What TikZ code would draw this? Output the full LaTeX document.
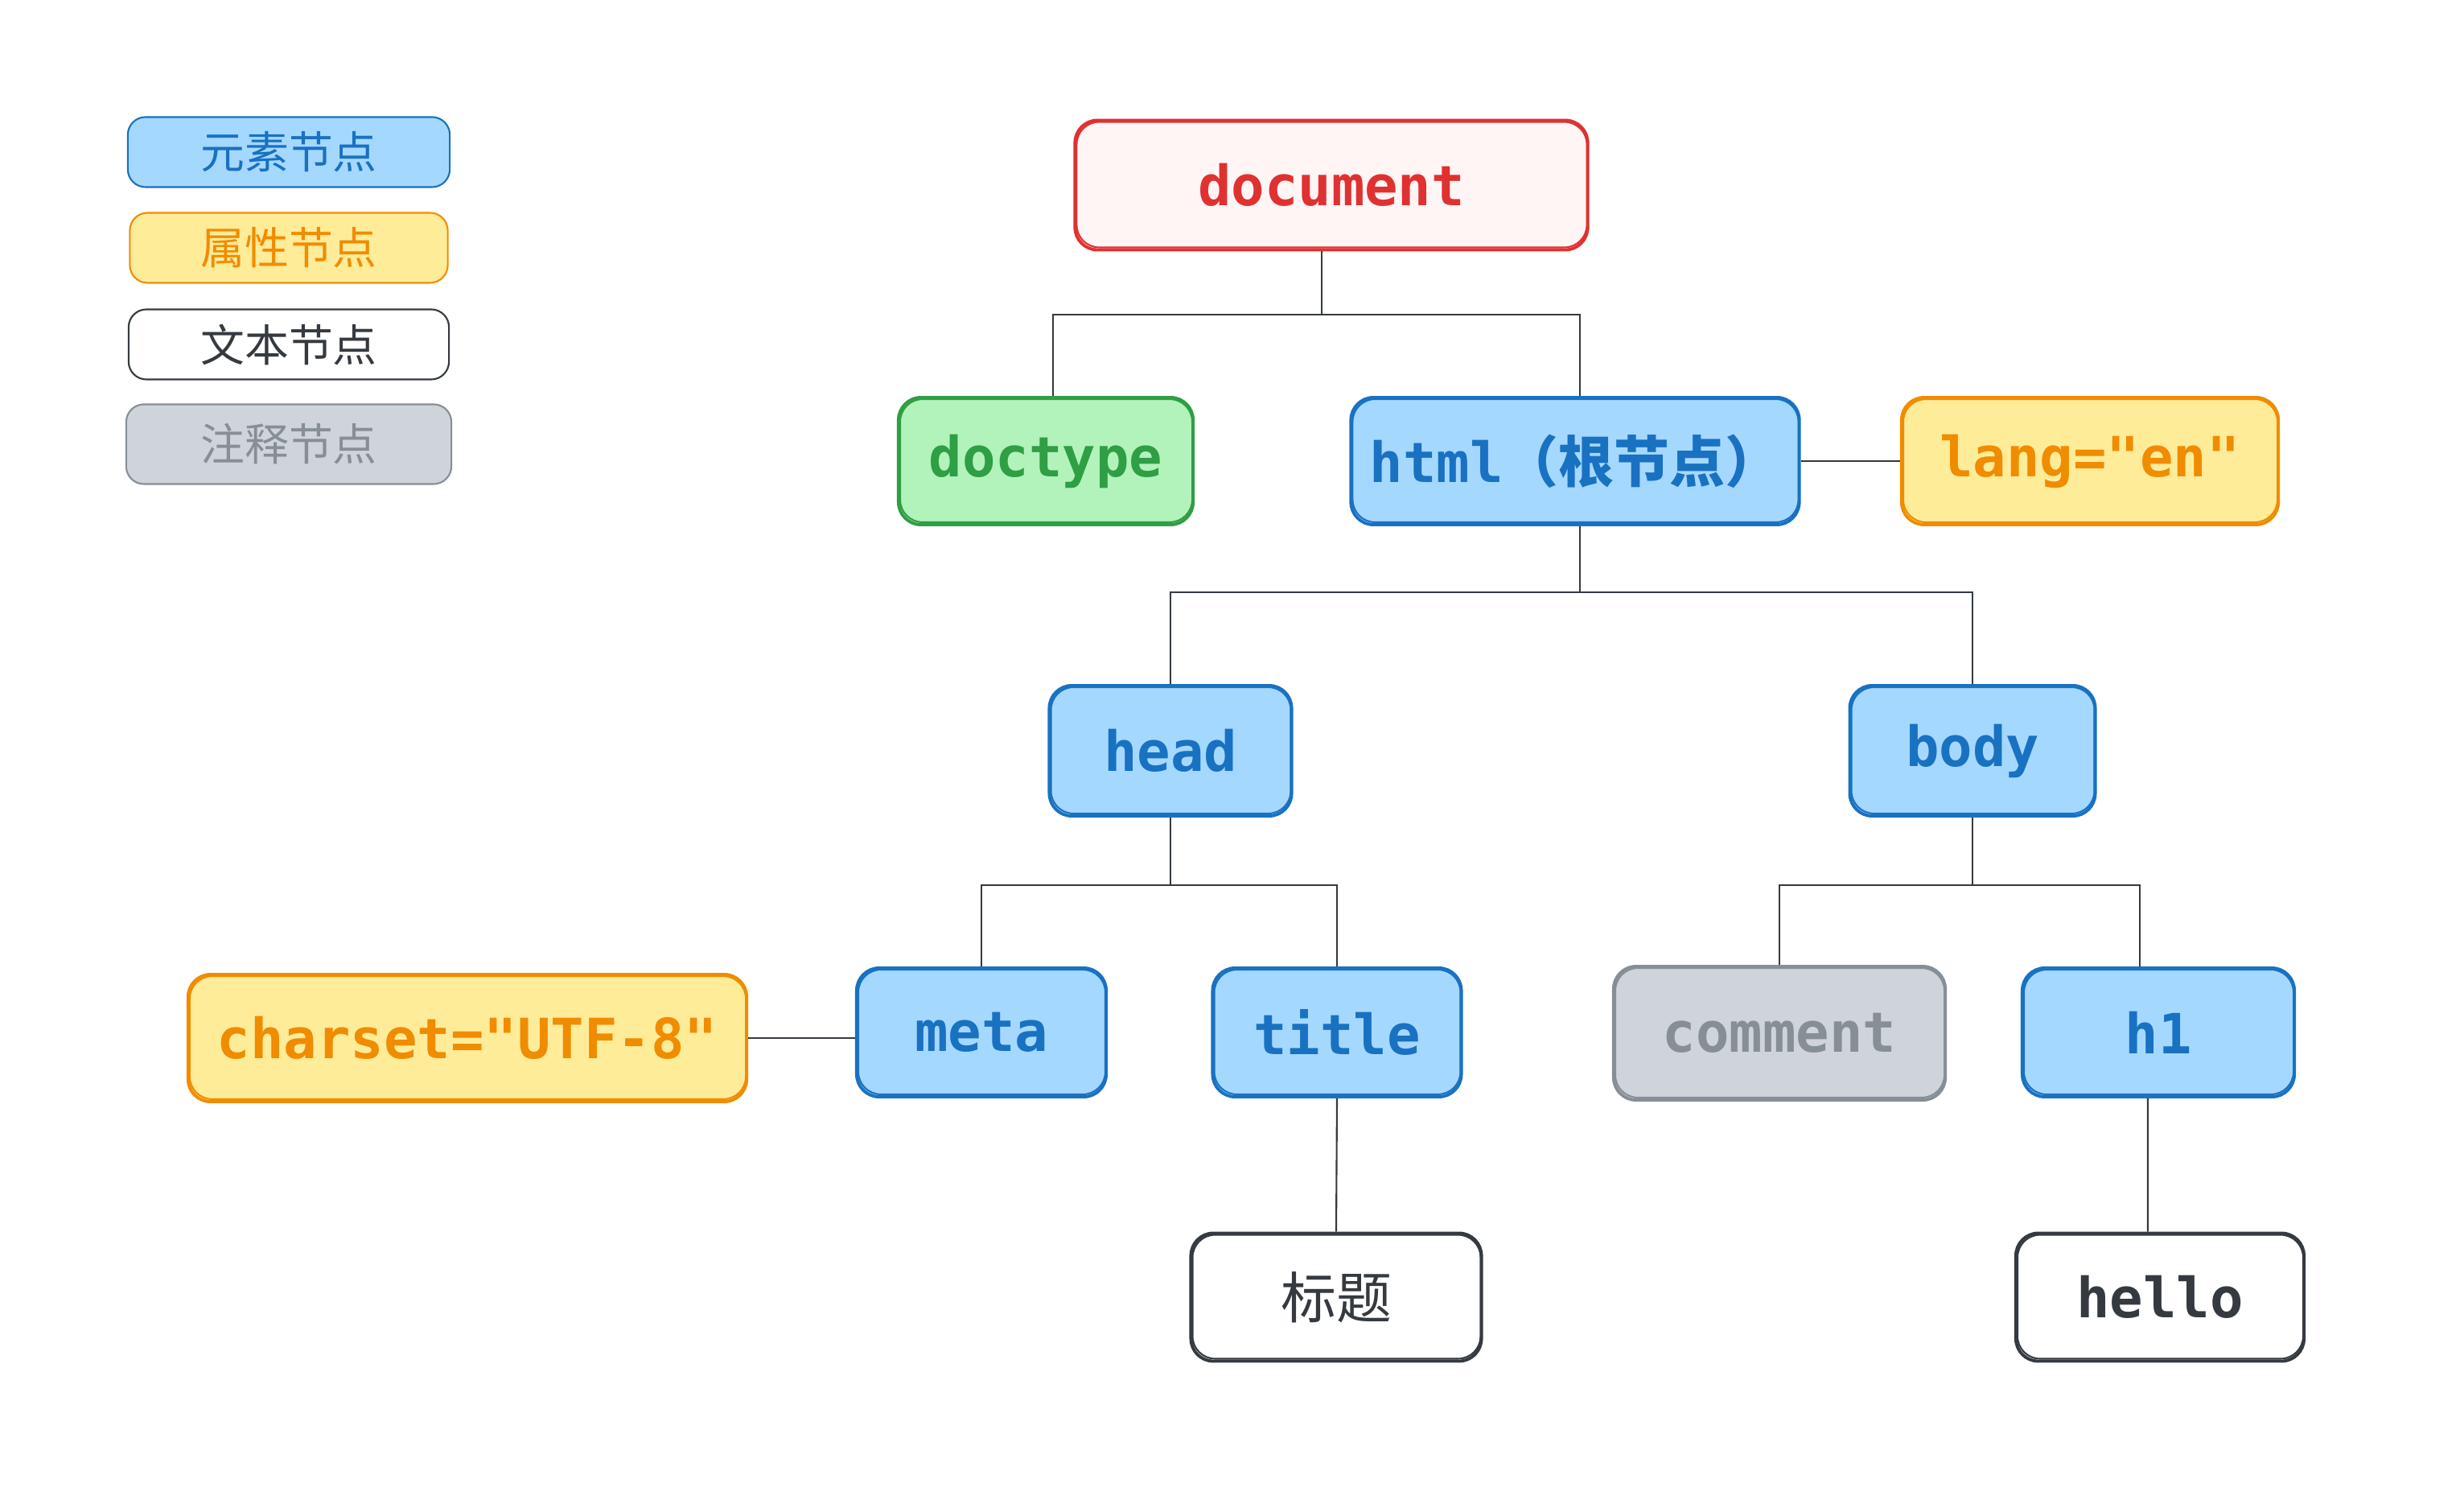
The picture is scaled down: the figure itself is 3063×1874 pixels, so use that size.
\documentclass[tikz,border=0pt]{standalone}
\usepackage{fontspec}
\setmonofont{DejaVu Sans Mono}
\newfontfamily\cjk{Noto Sans CJK SC}
\definecolor{bfill}{HTML}{A5D8FF}
\definecolor{bline}{HTML}{1971C2}
\definecolor{yfill}{HTML}{FFEC99}
\definecolor{yline}{HTML}{F08C00}
\definecolor{gfill}{HTML}{B2F2BB}
\definecolor{gline}{HTML}{2F9E44}
\definecolor{rfill}{HTML}{FFF5F5}
\definecolor{rline}{HTML}{E03131}
\definecolor{cfill}{HTML}{CED4DA}
\definecolor{cline}{HTML}{868E96}
\definecolor{tline}{HTML}{343A40}
\begin{document}
\begin{tikzpicture}[x=0.01cm,y=-0.01cm,
  box/.style={rounded corners=0.28cm, line width=1.1pt, inner sep=0pt,
    font=\fontsize{19.6}{24}\selectfont\ttfamily\bfseries},
  sk/.style={rounded corners=0.28cm, line width=0.6pt},
  elem/.style={box, draw=bline, fill=bfill, text=bline},
  attr/.style={box, draw=yline, fill=yfill, text=yline},
  txt/.style={box, draw=tline, fill=white, text=tline},
  cmt/.style={box, draw=cline, fill=cfill, text=cline},
  dtype/.style={box, draw=gline, fill=gfill, text=gline},
  root/.style={box, draw=rline, fill=rfill, text=rline},
  leg/.style={rounded corners=0.22cm, line width=0.6pt, minimum width=4.0cm,
    minimum height=0.87cm, inner sep=0pt, font=\fontsize{15.6}{19}\selectfont\cjk},
  conn/.style={draw=tline, line width=0.6pt}
]
\useasboundingbox (0,0) rectangle (3063,1874);

% legend
\node[leg, draw=bline, fill=bfill, text=bline] (l1) at (359,189) {元素节点};
\node[leg, draw=yline, fill=yfill, text=yline, minimum width=3.95cm] (l2) at (359,308) {属性节点};
\node[leg, draw=tline, fill=white, text=tline, minimum width=3.98cm] (l3) at (359,428) {文本节点};
\node[leg, draw=cline, fill=cfill, text=cline, minimum width=4.04cm, minimum height=0.99cm] (l4) at (359,552) {注释节点};

% main nodes
\node[root, minimum width=6.37cm, minimum height=1.61cm] (document) at (1655,230) {document};
\node[dtype, minimum width=3.66cm, minimum height=1.58cm] (doctype) at (1300,573) {doctype};
\node[elem, minimum width=5.57cm, minimum height=1.58cm] (html) at (1958,573) {html{\cjk\bfseries （根节点）}};
\node[attr, minimum width=4.68cm, minimum height=1.58cm] (lang) at (2598,573) {lang="en"};
\node[elem, minimum width=3.01cm, minimum height=1.62cm] (head) at (1455,933) {head};
\node[elem, minimum width=3.05cm, minimum height=1.62cm] (body) at (2452,933) {body};
\node[attr, minimum width=6.94cm, minimum height=1.58cm] (charset) at (581,1290) {charset="UTF-8"};
\node[elem, minimum width=3.10cm, minimum height=1.60cm] (meta) at (1220,1283) {meta};
\node[elem, minimum width=3.09cm, minimum height=1.60cm] (title) at (1662,1283) {title};
\node[cmt, minimum width=4.12cm, minimum height=1.66cm] (comment) at (2212,1284) {comment};
\node[elem, minimum width=3.38cm, minimum height=1.60cm] (h1) at (2683,1283) {h1};
\node[txt, minimum width=3.61cm, minimum height=1.59cm, font=\fontsize{19.6}{24}\selectfont\cjk] (biaoti) at (1661,1612) {标题};
\node[txt, minimum width=3.58cm, minimum height=1.59cm] (hello) at (2685,1612) {hello};

% sketch strokes
\foreach \n/\c in {document/rline, doctype/gline, html/bline, lang/yline, head/bline, body/bline,
  charset/yline, meta/bline, title/bline, comment/cline, h1/bline, biaoti/tline, hello/tline}{
  \draw[sk, draw=\c] ([shift={(4,-5)}]\n.south west) rectangle ([shift={(-3,4)}]\n.north east);
}

% connectors
\coordinate (r1) at (0,391);
\coordinate (r2) at (0,736);
\coordinate (r3) at (0,1100);
\coordinate (d0) at (1643,0);
\coordinate (h0) at (1964,0);
\draw[conn] (document.south -| d0) -- (d0 |- r1) -| ([xshift=0.09cm]doctype.north);
\draw[conn] (d0 |- r1) -| (html.north -| h0);
\draw[conn] (html.east) -- (lang.west);
\draw[conn] (html.south -| h0) -- (h0 |- r2) -| (head.north);
\draw[conn] (h0 |- r2) -| (body.north);
\draw[conn] (head.south) -- (head.south |- r3) -| (meta.north);
\draw[conn] (head.south |- r3) -| (title.north);
\draw[conn] (body.south) -- (body.south |- r3) -| (comment.north);
\draw[conn] (body.south |- r3) -| ([xshift=-0.23cm]h1.north);
\draw[conn] (charset.east) -- (charset.east -| meta.west);
\draw[conn] (title.south) -- (biaoti.north);
\draw[conn] ([xshift=-0.13cm]h1.south) -- ([xshift=-0.15cm]hello.north);
\end{tikzpicture}
\end{document}
